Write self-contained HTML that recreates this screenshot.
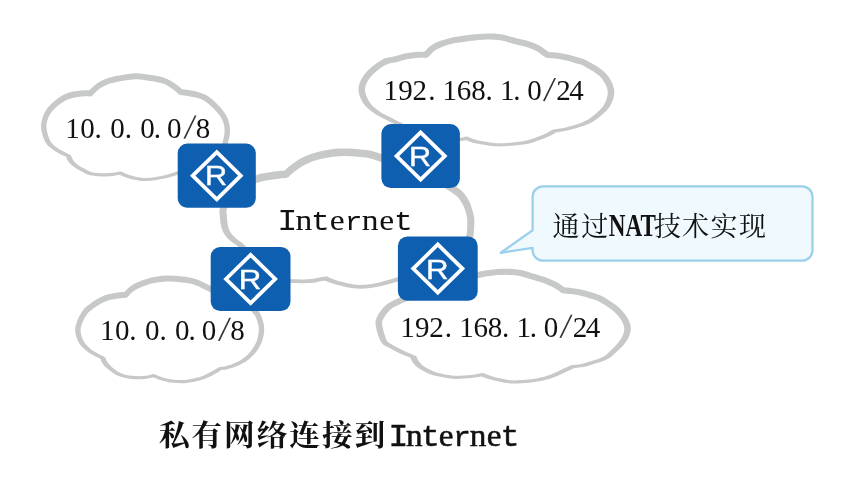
<!DOCTYPE html>
<html lang="zh-CN">
<head>
<meta charset="utf-8">
<title>私有网络连接到Internet</title>
<style>
html,body{margin:0;padding:0;background:#fff;}
body{width:854px;height:477px;overflow:hidden;position:relative;}
svg{display:block;position:absolute;left:0;top:0;will-change:transform;}
.ip,.lat,.cjk{font-family:"Liberation Serif","Noto Serif CJK SC",serif;fill:#111;}
.sl{font-size:36.5px;fill:#333;}
.mi,.mt,.mr{font-family:"Liberation Mono",monospace;}
.mi{font-size:30px;}
.mt{font-size:28px;}
.mr{font-size:26.5px;}
.nat{font-weight:bold;font-size:31.3px;}
.tt{font-weight:bold;}
.tl{font-weight:normal;font-size:31.3px;stroke:#111;stroke-width:0.5px;}
.tl .mi{font-size:31.3px;}
.tl .mt{font-size:29.2px;}
.tl .mr{font-size:27.6px;}
.rt{font-family:"Liberation Sans",sans-serif;fill:#fff;stroke:#fff;stroke-width:0.4px;}
.cf{fill:#fff;stroke:none;}
.cb{fill:#c7c9c9;stroke:none;}
</style>
</head>
<body>
<svg width="854" height="477" viewBox="0 0 854 477">
<rect width="854" height="477" fill="#fff"/>
<g id="cloud-internet">
<path class="cf" d="M285.9 174.2C287.4 172.9 291.9 168.8 295.2 166.4C298.5 164.0 302.4 161.7 305.9 160.0C309.4 158.3 311.6 157.6 316.0 156.4C320.4 155.2 326.8 153.7 332.0 153.0C337.2 152.3 342.0 152.2 347.0 152.3C352.0 152.4 357.8 153.0 362.0 153.4C366.2 153.8 367.3 153.7 372.0 155.0C376.7 156.3 387.0 160.0 390.0 161.0C395.0 162.5 409.5 165.3 420.0 170.0C430.5 174.7 445.8 183.9 453.2 189.0C460.6 194.1 461.7 196.0 464.5 200.4C467.3 204.8 469.2 210.9 470.2 215.5C471.2 220.1 470.9 223.9 470.6 228.0C470.3 232.1 470.9 234.3 468.3 240.0C465.7 245.7 463.1 256.2 455.0 262.0C446.9 267.8 429.4 272.1 420.0 275.0C410.6 277.9 402.1 278.5 398.5 279.2C395.0 280.1 384.3 283.5 377.7 284.8C371.1 286.1 364.8 286.9 358.9 286.8C353.0 286.7 346.9 285.1 342.3 284.1C337.8 283.1 334.3 281.8 331.6 280.9C328.9 279.9 326.8 278.8 325.9 278.4C324.8 278.6 322.1 279.1 319.5 279.5C316.9 279.9 314.2 280.8 310.3 281.1C306.4 281.4 300.2 281.4 296.0 281.2C291.8 281.0 290.2 281.9 285.0 280.0C279.8 278.1 272.4 275.8 265.0 270.0C257.6 264.2 244.7 249.3 240.6 245.2C239.0 243.9 233.4 240.0 231.0 237.6C228.6 235.2 227.4 233.2 226.3 231.0C225.2 228.8 224.7 227.2 224.2 224.5C223.7 221.8 223.4 217.8 223.3 215.0C223.2 212.2 222.0 212.2 223.6 208.0C225.2 203.8 227.6 194.8 233.0 190.0C238.4 185.2 249.8 181.5 256.0 179.2C262.2 176.9 265.3 176.8 270.3 176.0C275.3 175.2 283.3 174.5 285.9 174.2Z"/>
<path class="cb" d="M283.5 171.4L286.5 168.8L289.7 166.0L293.0 163.4L296.3 161.2L299.7 159.1L303.2 157.2L306.9 155.4L310.9 153.9L315.0 152.8L318.7 151.8L322.9 150.8L327.3 149.9L331.5 149.2L335.5 148.8L339.4 148.6L343.2 148.5L347.1 148.5L351.1 148.6L355.1 148.9L359.0 149.3L363.0 149.7L366.9 150.1L370.9 150.8L374.6 151.8L378.6 153.1L382.8 154.5L386.9 155.9L391.2 157.4L388.8 164.6L384.4 163.1L380.4 161.7L376.2 160.2L372.5 159.1L369.3 158.2L365.9 157.6L362.2 157.2L358.2 156.8L354.5 156.5L350.7 156.2L346.9 156.1L343.3 156.1L339.7 156.2L336.1 156.4L332.5 156.8L328.6 157.4L324.5 158.2L320.5 159.1L317.0 160.0L313.2 161.1L309.8 162.4L306.5 163.9L303.5 165.5L300.3 167.4L297.4 169.4L294.3 171.7L291.3 174.3L288.3 177.0ZM391.0 157.3L395.0 158.4L399.1 159.4L403.9 160.7L407.4 161.6L410.9 162.7L414.5 163.9L418.1 165.1L421.5 166.6L424.9 168.2L428.5 170.0L432.2 171.9L435.9 174.0L439.6 176.1L443.3 178.3L446.7 180.4L449.9 182.4L454.1 185.1L457.4 187.4L460.8 190.1L463.8 193.1L466.3 196.5L468.5 200.1L470.4 204.1L471.9 208.4L473.1 212.5L473.9 216.3L474.4 220.5L474.3 224.5L474.1 228.2L473.9 232.2L473.2 236.5L471.8 240.4L470.2 244.1L468.9 247.4L467.2 251.1L465.2 255.0L462.5 258.7L459.1 262.1L455.1 264.9L450.2 267.4L446.5 268.9L442.6 270.3L438.7 271.6L434.7 272.9L430.8 274.0L427.1 275.1L423.6 276.1L419.1 277.4L415.0 278.4L411.0 279.2L407.4 279.8L403.2 280.5L398.8 281.1L398.2 277.3L402.7 276.6L406.8 276.0L410.2 275.3L414.0 274.5L418.0 273.4L422.5 272.1L425.9 271.1L429.6 270.0L433.5 268.9L437.3 267.6L441.2 266.3L444.8 264.8L448.2 263.3L452.4 260.8L455.4 258.1L457.7 255.1L459.7 251.8L461.3 248.3L462.7 244.9L464.0 241.6L465.6 238.0L466.5 234.9L467.0 231.5L467.1 227.8L467.3 224.2L467.4 220.9L467.0 217.4L466.3 214.2L465.2 210.6L463.9 206.9L462.2 203.5L460.3 200.6L458.3 197.8L456.0 195.6L453.1 193.4L450.0 191.3L445.9 188.7L442.8 186.7L439.4 184.7L435.9 182.6L432.3 180.5L428.6 178.5L425.1 176.6L421.7 174.9L418.5 173.4L415.4 172.2L412.1 171.0L408.7 169.9L405.3 168.9L402.0 168.0L397.2 166.8L393.1 165.7L389.0 164.7ZM399.1 281.2L395.3 282.3L391.0 283.5L387.4 284.5L383.8 285.5L380.2 286.3L376.1 287.1L372.1 287.7L368.3 288.2L364.4 288.6L360.7 288.7L357.0 288.6L353.3 288.3L349.7 287.7L345.6 286.9L341.8 286.1L337.9 285.1L334.1 284.0L330.4 282.8L326.9 281.4L324.9 280.5L326.9 276.3L328.7 277.3L332.0 278.7L335.4 280.0L339.1 281.2L342.8 282.1L346.4 283.0L350.5 283.8L353.8 284.4L357.2 284.8L360.7 284.9L364.2 284.8L367.8 284.4L371.6 283.9L375.4 283.2L379.4 282.4L382.7 281.6L386.3 280.6L389.9 279.6L394.1 278.3L397.9 277.2ZM326.2 280.3L322.5 281.0L319.1 281.6L315.3 282.4L311.6 282.9L307.8 283.1L304.0 283.2L300.2 283.2L296.6 283.1L292.7 283.1L288.6 283.0L284.4 282.0L280.9 280.8L277.0 279.4L272.7 277.6L269.3 275.8L265.8 273.7L262.1 271.1L258.1 267.6L255.2 264.9L252.3 261.9L249.5 258.9L246.7 256.0L244.1 253.2L240.9 249.7L238.5 247.2L242.7 243.2L245.1 245.8L248.4 249.3L250.9 252.1L253.6 255.0L256.4 258.0L259.2 260.9L261.9 263.6L265.6 267.0L268.7 269.6L271.7 271.7L274.8 273.4L278.7 275.3L282.4 276.8L285.6 278.0L289.2 279.1L292.8 279.3L296.7 279.3L300.2 279.4L304.0 279.4L307.6 279.3L311.2 279.1L314.6 278.5L318.3 277.7L321.9 277.1L325.6 276.5ZM239.0 247.3L236.2 245.1L233.3 243.0L229.9 240.4L226.8 237.4L224.4 234.2L222.5 230.7L221.2 226.8L220.4 222.7L220.0 219.0L219.8 215.4L219.3 211.3L220.2 207.0L221.7 202.9L223.2 198.9L225.2 194.5L227.9 190.2L231.5 186.5L235.0 184.1L238.7 182.0L242.7 180.2L246.7 178.6L250.4 177.2L253.8 176.0L257.5 174.7L261.5 173.6L265.6 172.9L269.8 172.2L274.0 171.6L277.7 171.2L281.9 170.8L285.5 170.4L286.3 178.0L282.7 178.3L278.5 178.8L275.0 179.2L270.8 179.8L266.8 180.4L263.1 181.0L259.7 181.9L256.3 183.1L253.0 184.3L249.4 185.6L245.7 187.1L242.0 188.7L238.8 190.5L236.2 192.1L233.6 194.7L231.5 197.9L229.7 201.6L228.3 205.3L227.0 209.0L226.3 211.6L226.8 214.6L227.0 218.5L227.3 221.8L227.8 225.2L228.6 228.2L229.9 231.0L231.5 233.7L233.7 236.3L236.6 238.9L239.3 241.0L242.2 243.1Z"/>
<circle class="cb" cx="285.9" cy="174.2" r="3.6"/>
<circle class="cb" cx="390.0" cy="161.0" r="3.7"/>
<circle class="cb" cx="398.5" cy="279.2" r="1.9"/>
<circle class="cb" cx="325.9" cy="278.4" r="1.9"/>
<circle class="cb" cx="240.6" cy="245.2" r="2.5"/>
</g>
<g id="cloud-1">
<path class="cf" d="M90.5 93.4C91.5 92.5 93.8 89.5 96.2 87.7C98.6 85.9 101.6 83.8 104.8 82.4C108.0 81.0 110.5 80.2 115.5 79.2C120.5 78.2 129.2 76.5 135.0 76.3C140.8 76.1 145.1 77.1 150.0 77.9C154.9 78.7 160.1 79.4 164.3 80.9C168.5 82.4 172.3 85.2 175.0 87.1C177.7 89.0 179.8 91.3 180.7 92.1C181.8 92.2 183.9 92.3 187.1 92.9C190.3 93.5 196.2 94.3 200.0 95.7C203.8 97.1 206.3 98.2 210.1 101.4C213.8 104.6 219.7 110.3 222.5 114.7C225.3 119.1 226.7 123.4 227.2 127.9C227.7 132.5 226.8 137.0 225.3 142.0C223.8 147.0 222.2 153.7 218.0 158.0C213.8 162.3 206.8 165.5 200.0 168.0C193.2 170.5 181.0 172.3 177.2 173.2C175.3 173.8 170.3 175.6 165.8 176.6C161.3 177.6 154.3 178.9 150.0 179.3C145.7 179.7 142.8 179.4 139.9 179.1C137.0 178.8 135.2 178.3 132.8 177.7C130.4 177.1 127.7 176.3 125.6 175.5C123.5 174.7 121.2 173.4 120.3 173.0C118.8 173.2 114.7 174.2 111.4 174.5C108.1 174.8 104.3 175.0 100.7 174.8C97.1 174.6 93.0 174.3 90.0 173.5C87.0 172.7 85.2 171.2 82.8 169.9C80.4 168.6 77.6 167.2 75.6 165.7C73.6 164.2 71.8 162.3 70.6 160.7C69.4 159.1 68.8 156.8 68.5 156.0C67.3 155.4 64.0 154.0 61.4 152.5C58.8 151.0 55.2 149.2 52.8 147.1C50.4 145.0 48.6 143.6 47.1 140.0C45.6 136.4 43.4 130.3 43.7 125.5C44.0 120.7 45.9 115.3 48.9 110.9C51.9 106.5 58.0 101.8 62.0 99.1C66.0 96.4 69.1 95.8 72.7 94.8C76.3 93.8 80.4 93.6 83.4 93.4C86.4 93.2 89.3 93.4 90.5 93.4Z"/>
<path class="cb" d="M88.4 91.5L91.1 88.6L94.0 85.8L97.3 83.3L100.5 81.3L104.1 79.5L108.1 78.0L112.1 76.9L115.7 76.1L119.3 75.4L123.4 74.7L127.8 74.0L132.0 73.5L135.8 73.3L140.1 73.4L144.0 73.9L147.6 74.5L151.2 75.1L154.9 75.6L158.7 76.3L162.5 77.2L166.7 78.7L170.5 80.7L173.9 82.8L177.1 85.1L180.1 87.6L182.7 90.0L178.7 94.2L176.3 91.9L173.7 89.7L170.7 87.7L167.6 85.8L164.4 84.1L160.9 82.9L157.6 82.2L154.0 81.5L150.3 81.0L146.6 80.4L143.1 79.8L139.6 79.4L135.9 79.3L132.5 79.5L128.6 79.9L124.4 80.6L120.4 81.3L116.9 82.0L113.5 82.7L109.9 83.6L106.4 84.9L103.4 86.4L100.5 88.1L97.7 90.2L95.2 92.6L92.6 95.3ZM181.0 89.1L184.9 89.5L188.6 90.1L192.5 90.8L196.1 91.5L200.3 92.7L204.4 94.3L208.1 96.3L211.4 98.7L214.5 101.5L217.3 104.2L220.1 107.1L222.7 110.2L225.3 113.9L227.2 117.5L228.6 121.1L229.6 125.4L230.0 129.9L229.8 134.4L229.1 138.2L228.1 142.0L226.9 145.9L225.7 149.4L224.3 153.0L222.3 156.5L219.6 159.5L216.4 162.1L212.8 164.3L208.9 166.3L204.8 168.0L200.6 169.6L197.1 170.7L193.2 171.7L189.1 172.5L185.2 173.3L181.7 174.0L177.5 174.8L176.9 171.6L181.1 170.8L184.6 170.1L188.5 169.4L192.4 168.5L196.2 167.5L199.4 166.4L203.4 164.8L207.3 163.0L210.8 161.0L213.9 158.8L216.4 156.5L218.2 153.8L219.6 150.9L220.8 147.7L221.9 144.4L223.0 140.5L223.9 137.0L224.4 133.8L224.6 130.0L224.3 126.3L223.4 122.7L222.2 119.8L220.6 116.8L218.3 113.7L215.9 110.9L213.2 108.2L210.6 105.7L207.7 103.2L205.0 101.2L201.9 99.6L198.5 98.3L194.8 97.3L191.4 96.7L187.6 96.0L184.1 95.5L180.4 95.1ZM177.7 174.8L174.2 176.0L170.4 177.1L166.9 178.0L163.2 178.8L159.0 179.6L154.7 180.3L150.8 180.8L147.0 181.0L143.4 181.0L139.7 180.7L135.9 180.1L132.0 179.2L128.2 178.2L124.6 177.0L121.2 175.5L119.5 174.6L121.1 171.4L122.7 172.2L125.9 173.7L129.2 174.9L132.9 176.0L136.5 176.9L140.1 177.5L143.5 177.9L147.0 177.9L150.5 177.7L154.2 177.2L158.4 176.5L162.5 175.7L166.1 174.9L169.4 173.9L173.2 172.7L176.7 171.6ZM120.6 174.6L116.8 175.3L113.1 175.9L109.5 176.2L105.7 176.4L101.7 176.4L97.8 176.2L93.8 175.8L90.0 175.2L86.1 173.9L82.6 171.9L79.3 170.2L75.8 168.2L72.4 165.8L69.5 163.1L67.2 159.7L66.1 156.9L70.9 155.1L71.7 157.4L73.2 160.3L75.3 162.7L78.0 165.0L81.1 166.9L84.4 168.6L87.7 170.6L90.9 172.0L94.2 172.7L98.1 173.1L101.8 173.3L105.6 173.3L109.3 173.1L112.7 172.8L116.2 172.2L120.0 171.4ZM67.7 157.6L64.3 156.0L60.9 154.4L57.4 152.5L54.1 150.5L50.7 148.1L47.5 145.2L45.1 141.7L43.4 137.8L42.2 133.9L41.2 129.7L41.0 125.4L41.6 121.2L42.7 117.1L44.4 113.1L46.6 109.3L49.6 105.6L52.5 102.8L55.5 100.3L58.4 98.1L61.7 95.8L65.3 94.0L69.2 92.6L73.2 91.6L77.3 90.9L81.3 90.6L85.1 90.3L88.7 90.3L90.6 90.4L90.4 96.4L88.6 96.3L85.2 96.3L81.7 96.5L78.1 96.9L74.4 97.5L70.9 98.4L67.6 99.4L64.6 100.9L61.8 102.8L59.1 104.8L56.3 107.1L53.8 109.5L51.2 112.5L49.3 115.6L47.8 118.9L46.9 122.3L46.4 125.6L46.6 129.0L47.3 132.5L48.3 136.0L49.6 139.4L51.2 142.3L53.5 144.9L56.3 147.3L59.3 149.2L62.7 151.1L65.9 152.8L69.3 154.4Z"/>
<circle class="cb" cx="90.5" cy="93.4" r="2.8"/>
<circle class="cb" cx="180.7" cy="92.1" r="2.8"/>
<circle class="cb" cx="177.2" cy="173.2" r="1.6"/>
<circle class="cb" cx="120.3" cy="173.0" r="1.6"/>
<circle class="cb" cx="68.5" cy="156.0" r="1.8"/>
</g>
<g id="cloud-2">
<path class="cf" d="M425.9 54.8C426.8 53.8 429.5 50.8 431.6 49.1C433.8 47.4 435.8 46.1 438.8 44.8C441.8 43.5 446.6 42.1 449.5 41.3C452.4 40.5 451.0 40.6 456.0 39.9C461.0 39.2 472.4 37.4 479.6 36.9C486.9 36.4 493.4 36.4 499.5 37.1C505.6 37.8 511.5 40.2 516.0 41.3C520.5 42.4 523.1 42.7 526.7 43.8C530.3 44.9 534.4 46.5 537.4 48.0C540.4 49.5 542.7 51.8 544.5 53.0C546.3 54.2 547.5 54.8 548.1 55.1C549.3 55.2 552.2 55.1 555.2 55.5C558.2 55.9 562.4 56.4 565.9 57.2C569.4 58.0 572.7 59.1 576.0 60.1C579.3 61.1 581.3 61.1 585.7 63.5C590.1 65.9 598.4 70.2 602.6 74.7C606.8 79.2 610.4 85.2 611.0 90.5C611.6 95.8 609.4 101.7 606.4 106.4C603.4 111.1 596.6 116.0 593.2 118.7C589.8 121.4 588.9 121.5 586.0 122.8C583.1 124.1 579.4 125.3 575.9 126.4C572.4 127.5 568.8 128.5 565.2 129.3C561.6 130.1 556.3 130.7 554.5 131.0C553.3 131.7 550.4 133.6 547.4 135.0C544.4 136.4 540.3 138.0 536.7 139.2C533.1 140.4 530.5 141.6 526.0 142.4C521.5 143.2 515.0 143.9 510.0 144.3C505.1 144.7 500.4 145.0 496.3 144.8C492.2 144.7 489.2 144.0 485.6 143.4C482.0 142.8 478.1 142.3 474.9 141.4C471.7 140.5 467.8 138.7 466.4 138.2C465.2 138.4 463.9 139.3 459.5 139.6C455.1 139.9 446.6 140.8 440.0 140.0C433.4 139.2 426.8 137.7 420.0 135.0C413.2 132.3 402.5 125.8 399.0 124.0C397.4 123.2 393.2 121.1 389.5 119.2C385.8 117.3 380.9 115.3 377.0 112.5C373.1 109.7 368.9 106.6 366.4 102.6C363.8 98.6 361.4 93.2 361.7 88.6C362.0 83.9 364.7 79.0 368.3 74.7C371.9 70.4 378.8 65.1 383.4 62.5C388.0 59.9 392.1 60.1 396.0 59.1C399.9 58.1 403.1 56.9 406.7 56.2C410.3 55.5 414.2 55.0 417.4 54.8C420.6 54.6 424.5 54.8 425.9 54.8Z"/>
<path class="cb" d="M423.6 52.6L426.0 50.0L428.9 47.2L432.2 44.8L435.7 42.8L439.7 41.1L443.3 39.9L446.7 38.9L450.3 37.9L454.1 37.1L458.2 36.5L462.7 35.8L466.5 35.3L470.6 34.7L474.5 34.3L478.3 33.9L482.7 33.7L486.9 33.5L491.0 33.5L495.0 33.6L498.9 34.0L502.8 34.5L506.5 35.4L510.0 36.4L514.0 37.6L517.4 38.5L520.8 39.2L524.4 40.0L528.1 41.0L531.6 42.2L535.1 43.6L538.9 45.3L542.5 47.5L545.5 49.8L548.4 51.7L549.6 52.4L546.6 57.8L545.1 57.0L541.9 55.0L538.9 52.6L535.9 50.7L532.7 49.2L529.5 48.0L526.3 46.9L522.9 46.0L519.5 45.2L515.9 44.4L512.3 43.5L508.3 42.2L505.0 41.3L501.7 40.5L498.2 40.0L494.7 39.7L490.9 39.6L487.0 39.6L483.0 39.8L478.7 40.0L475.2 40.4L471.3 40.8L467.4 41.3L463.6 41.9L459.1 42.5L455.2 43.1L451.8 43.8L448.4 44.8L445.1 45.8L441.9 46.9L438.5 48.4L435.6 50.1L433.0 52.0L430.6 54.4L428.2 57.0ZM548.2 52.1L551.9 52.2L556.0 52.5L559.7 53.0L563.7 53.7L567.6 54.5L571.4 55.4L574.9 56.5L578.2 57.6L581.8 58.5L585.8 60.0L589.4 62.0L593.0 64.0L596.9 66.3L600.7 68.9L604.1 71.7L606.9 74.8L609.4 78.1L611.5 81.7L613.1 85.4L614.3 90.1L614.2 94.9L613.1 99.6L611.2 104.0L608.8 108.0L606.2 111.0L603.2 113.8L600.0 116.4L597.1 118.7L594.1 121.0L590.7 123.0L587.2 124.4L583.4 125.9L579.6 127.1L575.9 128.3L572.1 129.3L568.3 130.3L564.4 131.1L560.7 131.7L557.2 132.2L554.7 132.6L554.3 129.4L556.7 129.1L560.2 128.6L563.8 127.9L567.5 127.0L571.2 126.0L574.9 124.9L578.5 123.7L582.0 122.4L585.7 120.8L588.7 119.3L591.3 117.2L594.1 115.0L596.9 112.7L599.7 110.1L602.2 107.4L604.0 104.8L605.7 101.4L607.0 97.7L607.7 94.2L607.7 90.9L606.9 87.5L605.7 84.6L604.0 81.7L602.0 78.8L599.7 76.3L596.9 73.9L593.5 71.5L589.9 69.4L586.4 67.4L583.1 65.6L579.9 64.3L576.6 63.5L573.1 62.4L569.7 61.3L566.2 60.4L562.6 59.7L558.8 59.1L555.3 58.6L551.6 58.3L548.0 58.1ZM555.6 132.8L552.3 134.8L548.7 136.6L545.2 138.0L541.8 139.3L538.4 140.5L534.7 141.8L531.1 142.9L527.0 143.9L523.3 144.5L519.2 145.0L515.0 145.4L510.9 145.8L507.2 146.1L503.6 146.3L499.5 146.4L495.6 146.3L491.6 146.0L487.9 145.4L484.3 144.8L480.4 144.2L476.5 143.5L472.9 142.7L469.3 141.4L465.7 140.0L467.1 136.4L470.7 137.9L474.0 139.3L477.3 140.2L480.9 141.0L484.8 141.6L488.5 142.2L492.0 142.8L495.8 143.2L499.5 143.3L503.4 143.2L507.0 143.0L510.6 142.7L514.6 142.3L518.8 141.8L522.9 141.3L526.3 140.6L530.2 139.6L533.6 138.4L537.2 137.1L540.5 135.8L543.7 134.5L547.0 133.0L550.2 131.1L553.4 129.2ZM466.9 139.9L463.0 140.8L459.0 141.2L454.7 141.5L450.6 141.8L446.3 141.9L441.9 141.7L437.8 141.3L433.8 140.7L429.7 139.9L425.6 138.8L421.4 137.5L417.1 135.9L413.4 134.2L409.7 132.3L406.1 130.4L402.7 128.5L399.2 126.5L398.0 125.8L400.0 122.2L401.3 122.8L404.8 124.8L408.1 126.7L411.6 128.7L415.2 130.6L418.6 132.3L422.7 134.0L426.6 135.4L430.5 136.6L434.4 137.5L438.2 138.2L442.1 138.6L446.3 138.8L450.5 138.6L454.5 138.4L458.7 138.1L462.4 137.6L465.9 136.5ZM398.1 125.8L394.6 124.1L391.4 122.5L388.0 120.7L384.4 118.9L381.0 117.3L377.6 115.6L374.5 113.5L371.4 111.3L368.3 108.8L365.5 106.1L363.1 102.9L361.1 99.3L359.4 95.3L358.5 91.0L358.6 86.7L359.8 82.5L361.7 78.5L364.2 74.8L367.1 71.2L370.2 68.3L373.5 65.5L377.0 62.9L380.4 60.7L384.3 58.6L388.6 57.4L392.5 56.7L395.8 56.0L399.6 54.9L403.3 53.8L407.2 53.0L411.2 52.4L415.1 51.9L419.3 51.7L423.3 51.7L426.0 51.8L425.8 57.8L423.2 57.8L419.5 57.8L415.7 58.0L412.0 58.4L408.3 59.0L404.8 59.8L401.3 60.8L397.3 61.9L393.6 62.7L390.1 63.3L386.6 64.4L383.5 66.0L380.6 68.0L377.4 70.4L374.4 73.0L371.8 75.5L369.3 78.6L367.3 81.7L365.9 84.8L365.1 87.7L365.0 90.5L365.6 93.5L366.7 96.7L368.2 99.9L369.8 102.6L371.9 105.2L374.4 107.6L377.2 109.8L380.0 111.8L383.0 113.7L386.2 115.3L389.8 117.1L393.2 118.8L396.4 120.5L399.9 122.2Z"/>
<circle class="cb" cx="425.9" cy="54.8" r="3.0"/>
<circle class="cb" cx="548.1" cy="55.1" r="3.0"/>
<circle class="cb" cx="554.5" cy="131.0" r="1.6"/>
<circle class="cb" cx="466.4" cy="138.2" r="1.7"/>
<circle class="cb" cx="399.0" cy="124.0" r="2.0"/>
</g>
<g id="cloud-3">
<path class="cf" d="M125.6 295.0C126.4 294.1 128.6 291.3 130.6 289.7C132.6 288.1 135.4 286.6 137.8 285.4C140.2 284.2 142.0 283.5 144.9 282.6C147.8 281.7 150.9 280.6 155.0 279.9C159.1 279.2 163.2 278.4 169.4 278.6C175.6 278.8 185.4 279.4 192.0 281.0C198.6 282.6 203.5 285.8 209.0 288.3C214.5 290.8 222.3 294.7 225.0 296.0C228.3 297.0 240.1 299.6 245.0 302.0C249.9 304.4 252.3 308.5 254.5 310.7C256.7 312.9 256.9 312.7 258.0 315.4C259.1 318.1 261.0 323.1 261.4 326.9C261.8 330.7 261.1 335.0 260.3 338.4C259.5 341.8 258.1 344.4 256.5 347.0C254.9 349.6 253.0 352.1 251.0 354.3C249.0 356.5 246.8 358.4 244.5 360.0C242.2 361.6 240.3 362.6 237.3 363.9C234.3 365.2 229.4 367.0 226.6 367.8C223.8 368.6 221.3 368.4 220.2 368.5C218.9 369.3 215.5 371.6 212.4 373.2C209.3 374.8 205.3 377.0 201.7 378.2C198.1 379.4 194.1 380.0 191.0 380.6C187.9 381.2 186.6 381.7 183.0 381.7C179.4 381.7 173.1 381.3 169.3 380.7C165.5 380.1 162.7 379.0 160.1 378.2C157.5 377.4 154.7 376.1 153.6 375.7C152.1 376.0 147.7 377.2 144.4 377.5C141.1 377.8 137.3 377.8 133.7 377.5C130.1 377.2 126.0 376.6 123.0 375.8C120.0 375.0 118.0 373.8 116.0 372.6C114.0 371.4 112.6 370.4 110.8 368.8C109.0 367.2 106.4 364.9 105.1 363.1C103.8 361.3 103.3 358.9 102.9 358.1C101.5 357.4 97.0 355.4 94.4 353.8C91.8 352.2 89.6 350.9 87.3 348.8C85.0 346.7 82.4 344.4 80.8 341.0C79.2 337.6 77.3 333.1 77.9 328.4C78.5 323.7 81.7 316.9 84.5 312.8C87.3 308.7 91.5 306.3 95.0 303.9C98.5 301.5 102.1 299.6 105.7 298.2C109.3 296.8 113.1 296.2 116.4 295.7C119.7 295.2 124.1 295.1 125.6 295.0Z"/>
<path class="cb" d="M123.5 293.1L125.9 290.4L128.8 287.5L132.2 285.1L135.7 283.1L139.4 281.4L143.1 280.1L146.7 278.9L150.3 277.8L154.4 277.0L158.3 276.3L162.6 275.8L166.7 275.6L170.4 275.6L174.8 275.8L178.4 276.1L182.1 276.4L185.8 276.8L189.4 277.4L193.8 278.4L197.7 279.7L201.3 281.2L204.7 282.9L207.8 284.5L211.1 286.0L214.7 287.7L218.4 289.5L221.9 291.2L226.3 293.4L223.7 298.6L219.3 296.5L215.9 294.8L212.2 293.0L208.6 291.4L205.3 289.8L202.0 288.2L198.9 286.6L195.6 285.2L192.2 284.1L188.3 283.3L185.0 282.8L181.4 282.4L177.9 282.0L174.4 281.8L170.3 281.6L166.8 281.6L163.1 281.8L159.2 282.3L155.6 282.8L151.7 283.6L148.4 284.6L145.0 285.7L141.6 286.9L138.4 288.4L135.2 290.1L132.4 291.9L130.0 294.3L127.7 296.9ZM225.8 293.1L229.6 294.1L234.0 295.3L237.6 296.3L241.2 297.4L245.5 299.0L249.3 301.3L252.3 303.9L254.9 306.8L257.5 309.7L259.9 313.0L261.5 316.8L262.8 320.6L263.8 324.6L264.2 328.6L264.0 332.5L263.5 336.2L262.5 340.1L261.0 344.0L259.1 347.4L257.0 350.7L254.6 353.7L252.0 356.5L249.2 359.0L246.0 361.4L242.8 363.3L239.3 365.0L236.0 366.4L232.5 367.7L229.0 368.8L225.2 369.7L220.3 370.1L220.1 366.9L224.7 366.6L228.0 365.6L231.3 364.4L234.7 363.1L237.8 361.7L240.9 360.0L243.7 358.1L246.5 355.8L248.8 353.4L251.0 350.8L253.0 348.0L254.8 345.0L256.4 341.9L257.5 338.6L258.2 335.2L258.7 332.0L258.8 328.7L258.5 325.6L257.6 322.1L256.4 318.8L255.1 315.8L253.2 313.4L250.7 310.6L248.3 308.0L246.0 306.0L243.0 304.3L239.3 303.0L236.0 302.0L232.5 301.0L228.1 299.9L224.2 298.9ZM221.2 370.1L218.0 372.2L214.7 374.1L211.3 375.9L208.0 377.5L204.5 379.0L200.5 380.3L196.5 381.2L192.8 381.9L189.2 382.6L185.5 383.2L181.2 383.2L177.6 383.1L173.8 382.8L169.7 382.4L165.7 381.6L162.0 380.6L158.3 379.4L155.0 378.1L152.9 377.3L154.3 374.1L156.2 374.9L159.5 376.2L163.0 377.4L166.5 378.5L170.1 379.2L174.1 379.7L177.8 380.0L181.2 380.1L185.2 380.0L188.7 379.4L192.2 378.8L195.8 378.1L199.6 377.1L203.2 375.7L206.4 374.2L209.6 372.6L212.9 370.8L216.0 368.9L219.2 366.9ZM154.0 377.3L150.5 378.1L146.7 378.8L143.0 379.2L139.1 379.3L135.2 379.2L131.3 378.9L127.3 378.3L123.5 377.6L119.9 376.6L116.3 375.0L112.9 373.0L109.7 370.6L106.9 368.2L103.9 365.4L101.6 361.9L100.5 359.0L105.3 357.2L106.1 359.7L107.6 362.5L109.9 365.1L112.4 367.4L115.2 369.7L118.1 371.7L121.2 373.3L124.3 374.4L127.8 375.2L131.7 375.7L135.4 376.1L139.1 376.2L142.8 376.1L146.2 375.7L149.8 374.9L153.2 374.1ZM102.1 359.7L98.8 358.1L95.3 356.4L91.9 354.5L88.5 352.4L85.5 350.1L82.5 347.3L79.8 344.2L77.7 340.4L76.2 336.6L75.2 332.1L75.3 327.3L76.5 322.9L77.8 319.3L79.5 315.8L81.8 311.9L84.3 308.6L87.1 305.9L90.6 303.4L93.9 301.1L97.3 299.0L100.7 297.2L104.1 295.6L108.2 294.3L112.2 293.4L116.0 292.7L119.9 292.3L123.8 292.1L125.4 292.0L125.8 298.0L124.1 298.1L120.3 298.3L116.8 298.7L113.3 299.2L109.7 300.0L106.2 301.2L103.2 302.5L100.2 304.1L97.1 306.0L93.9 308.1L90.8 310.4L88.4 312.5L86.4 315.0L84.4 318.4L82.9 321.5L81.7 324.6L80.7 328.1L80.6 331.6L81.2 335.1L82.4 338.4L83.9 341.6L85.8 344.2L88.4 346.9L90.9 349.2L93.9 351.2L97.0 353.1L100.4 354.9L103.7 356.5Z"/>
<circle class="cb" cx="125.6" cy="295.0" r="2.8"/>
<circle class="cb" cx="225.0" cy="296.0" r="2.9"/>
<circle class="cb" cx="220.2" cy="368.5" r="1.5"/>
<circle class="cb" cx="153.6" cy="375.7" r="1.6"/>
<circle class="cb" cx="102.9" cy="358.1" r="1.8"/>
</g>
<g id="cloud-4">
<path class="cf" d="M440.0 285.0C443.3 284.0 453.7 280.7 460.0 279.0C466.3 277.3 472.7 276.1 478.0 275.0C483.3 273.9 487.5 273.1 492.0 272.6C496.5 272.1 500.5 271.8 505.0 271.8C509.5 271.8 514.1 271.9 518.9 272.8C523.7 273.7 529.7 275.8 534.0 277.0C538.3 278.2 541.1 279.0 544.7 280.3C548.3 281.6 552.3 283.3 555.4 285.0C558.5 286.7 561.9 289.4 563.2 290.3C564.3 290.4 566.8 290.6 569.6 291.0C572.5 291.4 576.2 291.6 580.3 292.5C584.4 293.4 590.2 295.1 594.0 296.4C597.8 297.7 598.9 297.6 603.0 300.2C607.1 302.8 614.8 307.5 618.9 311.9C623.0 316.3 626.6 321.8 627.4 326.5C628.2 331.2 626.3 335.7 623.6 340.2C620.9 344.7 614.6 350.3 611.3 353.4C608.0 356.5 606.9 357.2 604.0 358.6C601.1 360.1 597.4 361.0 593.9 362.1C590.4 363.2 586.8 364.5 583.2 365.3C579.6 366.1 574.3 366.5 572.5 366.7C571.3 367.2 568.4 368.6 565.4 370.0C562.4 371.4 558.3 373.6 554.7 375.0C551.1 376.4 548.1 377.5 544.0 378.5C539.9 379.5 535.3 380.4 530.0 381.0C524.7 381.6 517.3 382.1 512.0 381.9C506.7 381.7 502.1 380.5 498.3 379.7C494.5 378.9 491.7 378.0 489.1 377.2C486.5 376.4 483.7 375.1 482.6 374.7C481.1 374.9 476.7 375.8 473.4 376.2C470.1 376.6 466.3 376.9 462.7 377.1C459.1 377.3 456.2 377.6 452.0 377.2C447.8 376.8 441.1 375.4 437.5 374.5C433.9 373.6 433.0 373.3 430.3 372.1C427.6 370.9 423.6 368.9 421.1 367.1C418.6 365.3 416.7 363.1 415.4 361.4C414.1 359.7 413.6 357.5 413.2 356.7C411.3 355.9 405.5 353.8 401.8 352.1C398.1 350.4 394.1 348.2 391.1 346.4C388.1 344.6 386.0 344.7 384.0 341.4C382.0 338.1 379.9 330.3 379.2 326.5C378.5 322.7 378.3 321.7 379.8 318.5C381.3 315.3 384.8 310.2 388.3 307.2C391.8 304.2 395.3 303.1 400.6 300.6C405.9 298.1 413.4 294.6 420.0 292.0C426.6 289.4 436.7 286.2 440.0 285.0Z"/>
<path class="cb" d="M439.1 282.1L442.7 280.9L446.8 279.7L450.3 278.6L453.8 277.6L458.2 276.3L462.1 275.3L465.9 274.4L469.6 273.6L473.2 272.8L477.4 272.0L481.2 271.2L484.8 270.6L488.9 269.9L493.0 269.4L497.0 269.0L501.0 268.8L505.0 268.8L509.2 268.8L513.4 269.0L517.2 269.4L521.0 270.1L525.1 271.1L529.1 272.3L532.8 273.4L536.7 274.6L540.5 275.7L544.1 276.8L548.0 278.3L551.5 279.7L554.8 281.2L558.4 283.1L561.8 285.4L565.0 287.8L561.4 292.8L558.2 290.5L555.2 288.5L552.1 286.8L549.0 285.4L545.8 284.0L542.1 282.6L538.7 281.6L535.0 280.5L531.1 279.3L527.3 278.2L523.5 277.0L519.7 276.1L516.3 275.5L513.0 275.1L509.0 274.9L505.0 274.8L501.2 274.9L497.5 275.1L493.7 275.5L489.8 276.0L485.8 276.6L482.4 277.3L478.6 278.0L474.4 278.8L470.9 279.6L467.3 280.4L463.6 281.3L459.8 282.2L455.5 283.4L452.1 284.5L448.7 285.5L444.6 286.8L440.9 287.9ZM563.5 287.3L567.1 287.6L570.8 288.1L574.9 288.5L579.0 289.1L583.0 290.0L586.6 290.9L590.3 292.0L593.7 293.1L597.4 294.3L601.2 295.7L604.6 297.5L608.4 299.9L611.9 302.2L615.5 304.8L619.0 307.6L621.9 310.4L624.4 313.4L626.7 316.6L629.0 320.8L630.5 325.1L630.9 329.4L630.1 333.6L628.6 337.4L626.5 341.0L623.8 344.7L621.0 347.7L618.1 350.5L615.3 353.1L612.5 355.7L609.5 358.0L605.8 360.0L601.9 361.5L598.1 362.7L594.4 363.8L590.7 365.0L586.9 366.2L583.0 367.0L579.2 367.6L575.6 368.0L572.7 368.3L572.3 365.1L575.3 364.8L578.8 364.4L582.3 363.8L586.0 362.8L589.7 361.6L593.4 360.4L597.1 359.3L600.5 358.0L603.9 356.4L606.8 354.3L609.2 352.0L611.8 349.4L614.5 346.9L617.1 344.1L619.4 341.3L621.5 338.0L622.9 334.9L623.9 331.9L624.3 329.2L624.0 326.5L623.0 323.4L621.2 320.0L619.3 317.3L617.2 314.7L614.7 312.3L611.7 309.8L608.3 307.3L605.0 305.1L601.4 302.9L598.6 301.3L595.4 300.1L591.9 298.9L588.5 297.9L585.0 296.8L581.5 295.9L577.9 295.1L574.1 294.6L570.1 294.1L566.5 293.7L562.9 293.3ZM573.3 368.5L570.1 370.0L566.7 371.6L563.3 373.2L560.0 374.8L556.5 376.3L552.7 377.7L549.0 378.9L545.0 380.0L541.2 380.9L537.0 381.6L533.3 382.2L529.4 382.7L525.8 383.0L522.0 383.2L518.2 383.4L514.5 383.5L510.3 383.4L506.5 383.0L502.9 382.4L499.1 381.6L495.2 380.7L491.4 379.8L487.7 378.7L484.2 377.4L481.9 376.5L483.3 372.9L485.6 373.9L488.9 375.2L492.4 376.4L496.0 377.4L499.8 378.3L503.6 379.1L506.9 379.8L510.6 380.2L514.5 380.4L518.1 380.3L521.8 380.1L525.6 379.8L529.0 379.5L532.9 379.0L536.5 378.4L540.5 377.6L544.2 376.7L548.0 375.5L551.5 374.3L555.0 372.8L558.3 371.2L561.6 369.6L565.0 368.0L568.4 366.4L571.7 364.9ZM482.9 376.3L478.9 377.0L475.2 377.6L471.5 378.0L467.7 378.3L463.9 378.6L460.2 378.8L456.6 379.0L452.5 378.8L448.2 378.3L444.2 377.6L440.3 376.8L436.6 376.0L433.0 375.2L429.5 373.9L426.2 372.4L422.6 370.6L418.9 368.4L415.6 365.7L412.7 362.6L410.4 358.0L416.0 355.4L417.7 359.6L419.4 362.1L421.8 364.7L424.8 366.9L428.0 368.8L431.1 370.3L434.2 371.7L437.4 372.7L441.1 373.6L444.8 374.4L448.7 375.1L452.8 375.7L456.6 375.8L460.0 375.7L463.7 375.5L467.5 375.2L471.2 374.9L474.7 374.4L478.4 373.8L482.3 373.1ZM412.5 358.4L408.7 357.0L404.8 355.5L401.0 353.9L397.5 352.3L394.1 350.5L391.0 348.8L387.6 347.0L383.8 345.2L380.8 341.7L379.0 337.7L377.8 334.2L376.6 329.9L375.8 325.9L375.4 321.6L376.8 317.2L378.9 313.5L381.2 310.2L383.9 307.0L386.9 304.3L390.5 301.9L394.3 300.1L397.8 298.5L400.9 297.0L404.6 295.3L408.6 293.5L412.7 291.7L416.8 289.9L421.0 288.3L424.4 287.1L427.9 285.8L431.3 284.7L435.4 283.3L439.0 282.1L441.0 287.9L437.4 289.1L433.3 290.5L429.9 291.7L426.5 292.9L423.2 294.1L419.2 295.7L415.1 297.4L411.1 299.1L407.2 300.9L403.6 302.6L400.4 304.1L396.9 305.7L393.6 307.3L390.8 309.2L388.6 311.4L386.3 314.1L384.4 316.9L382.8 319.8L382.0 322.3L382.2 325.0L382.9 328.5L383.9 332.4L384.9 335.6L386.0 338.9L387.2 341.5L389.7 343.3L393.0 345.1L396.1 346.9L399.3 348.6L402.6 350.3L406.3 351.9L410.1 353.5L413.9 355.0Z"/>
<circle class="cb" cx="440.0" cy="285.0" r="3.0"/>
<circle class="cb" cx="563.2" cy="290.3" r="3.0"/>
<circle class="cb" cx="572.5" cy="366.7" r="1.5"/>
<circle class="cb" cx="482.6" cy="374.7" r="1.6"/>
<circle class="cb" cx="413.2" cy="356.7" r="1.8"/>
</g>
<path d="M543.1 186.3H802A10.5 10.5 0 0 1 812.5 196.8V250.2A10.5 10.5 0 0 1 802 260.7H543.1A10.5 10.5 0 0 1 532.6 250.2V247.9L500.8 252.8L532.6 230.2V196.8A10.5 10.5 0 0 1 543.1 186.3Z" fill="#f0f9fd" stroke="#9bd0eb" stroke-width="2.3" stroke-linejoin="round"/>
<g>
<rect x="177.7" y="143.6" width="78.1" height="64.2" rx="9.5" ry="9.5" fill="#0f5fb0"/>
<path d="M192.7 175.7L216.8 152.1L240.8 175.7L216.8 199.3Z" fill="none" stroke="#fff" stroke-width="3.8" stroke-linejoin="miter"/>
<text class="rt" transform="translate(216.2 185.4) scale(1.12 1)" text-anchor="middle" font-size="27.4">R</text>
</g>
<g>
<rect x="381.4" y="124.1" width="78.5" height="64.0" rx="9.5" ry="9.5" fill="#0f5fb0"/>
<path d="M396.5 156.1L420.6 132.5L444.8 156.1L420.6 179.7Z" fill="none" stroke="#fff" stroke-width="3.8" stroke-linejoin="miter"/>
<text class="rt" transform="translate(420.0 165.8) scale(1.12 1)" text-anchor="middle" font-size="27.4">R</text>
</g>
<g>
<rect x="210.7" y="246.9" width="79.8" height="64.2" rx="9.5" ry="9.5" fill="#0f5fb0"/>
<path d="M226.0 279.0L250.6 254.9L275.2 279.0L250.6 303.1Z" fill="none" stroke="#fff" stroke-width="3.8" stroke-linejoin="miter"/>
<text class="rt" transform="translate(250.0 288.9) scale(1.12 1)" text-anchor="middle" font-size="27.9">R</text>
</g>
<g>
<rect x="397.9" y="236.4" width="79.8" height="64.4" rx="9.5" ry="9.5" fill="#0f5fb0"/>
<path d="M413.2 268.6L437.8 244.5L462.4 268.6L437.8 292.7Z" fill="none" stroke="#fff" stroke-width="3.8" stroke-linejoin="miter"/>
<text class="rt" transform="translate(437.2 278.5) scale(1.12 1)" text-anchor="middle" font-size="27.9">R</text>
</g>
<text class="ip" text-anchor="middle" font-size="29" y="137.5" x="72.6 87.6 98.2 117.6 128.4 147.6 157.4 174.3 188.5 202.9">10.0.0.0<tspan class="sl" dy="0.8" rotate="7">/</tspan><tspan dy="-0.8">8</tspan></text>
<text class="ip" text-anchor="middle" font-size="29" y="100.0" x="390.7 405.5 419.8 431.8 449.8 464.1 478.4 489.1 507.3 516.8 534.5 548.0 563.5 576.5">192.168.1.0<tspan class="sl" dy="0.8" rotate="7">/</tspan><tspan dy="-0.8">24</tspan></text>
<text class="ip" text-anchor="middle" font-size="29" y="339.7" x="107.3 122.3 132.9 152.3 163.1 182.3 192.1 209.0 223.2 237.6">10.0.0.0<tspan class="sl" dy="0.8" rotate="7">/</tspan><tspan dy="-0.8">8</tspan></text>
<text class="ip" text-anchor="middle" font-size="29" y="336.6" x="407.4 422.2 436.5 448.4 466.4 480.7 495.0 505.7 523.8 533.3 551.0 564.5 580.0 592.9">192.168.1.0<tspan class="sl" dy="0.8" rotate="7">/</tspan><tspan dy="-0.8">24</tspan></text>
<text class="lat" transform="scale(1.12 1)" text-anchor="middle" font-size="30" y="230.2" x="256.5 271.3 286.2 301.0 315.8 330.6 345.4 360.3"><tspan class="mi">I</tspan>n<tspan class="mt">t</tspan>e<tspan class="mr">r</tspan>ne<tspan class="mt">t</tspan></text>
<text class="cjk" font-size="27" y="235.6"><tspan x="552.5 581.2">通过</tspan><tspan class="nat" x="608.8" textLength="47" lengthAdjust="spacingAndGlyphs">NAT</tspan><tspan x="654 682 710.4 739.1">技术实现</tspan></text>
<text class="cjk tt" transform="scale(1.06 1)" font-size="29" y="446.4" x="149.9 180.7 211.4 242.2 273.0 303.7 334.5 366.4 383.0 397.2 414.0 427.7 443.2 459.2 472.4">私有网络连接到<tspan class="tl"><tspan class="mi">I</tspan>n<tspan class="mt">t</tspan>e<tspan class="mr">r</tspan>ne<tspan class="mt">t</tspan></tspan></text>
</svg>
</body>
</html>
